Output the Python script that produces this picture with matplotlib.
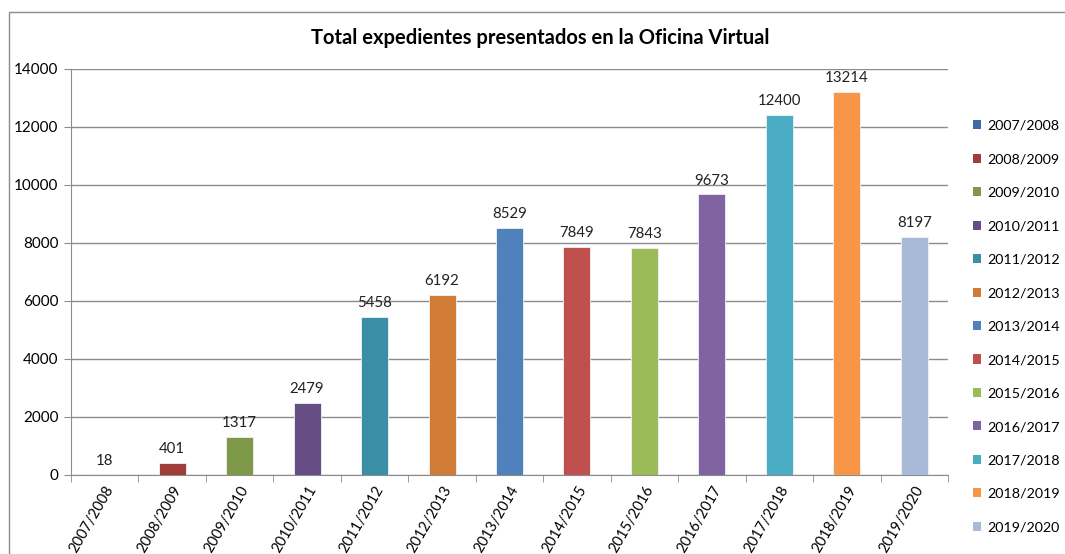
import matplotlib
matplotlib.use("Agg")
import matplotlib.pyplot as plt
from matplotlib.patches import Patch, Rectangle
import numpy as np

plt.rcParams.update({
    "font.family": ["Lato", "DejaVu Sans"],
    "font.size": 10,
})

cursos = ["2007/2008", "2008/2009", "2009/2010", "2010/2011", "2011/2012",
          "2012/2013", "2013/2014", "2014/2015", "2015/2016", "2016/2017",
          "2017/2018", "2018/2019", "2019/2020"]
expedientes = [18, 401, 1317, 2479, 5458, 6192, 8529, 7849, 7843, 9673,
               12400, 13214, 8197]
colores = ["#3C6AA6", "#9E3D3A", "#7E9A48", "#664E85", "#3A8EA5", "#D07B36",
           "#4F81BD", "#C0504D", "#9BBB59", "#8064A2", "#4BACC6", "#F79646",
           "#A9BAD8"]

fig = plt.figure(figsize=(10.65, 5.54), dpi=100)
# marco gris del gráfico
fig.patches.append(Rectangle((9 / 1065, -0.01), 1.2, 1 - 12 / 554 + 0.01,
                             transform=fig.transFigure, fill=False,
                             edgecolor="#8C8C8C", linewidth=1))
ax = fig.add_axes([71 / 1065, 1 - 475 / 554, (948 - 71) / 1065, (475 - 69) / 554])

x = np.arange(len(cursos))
ax.bar(x, expedientes, width=0.4, color=colores, edgecolor="#F2F2F2",
       linewidth=0.6, zorder=3)
for xi, v in zip(x, expedientes):
    ax.annotate(str(v), (xi, v), xytext=(0, 5), textcoords="offset points",
                ha="center", va="bottom", fontsize=10.8, color="#222222")

ax.set_xlim(-0.5, len(cursos) - 0.5)
ax.set_ylim(0, 14000)
ax.set_yticks(range(0, 14001, 2000))
ax.yaxis.grid(True, color="#8C8C8C", linewidth=1, zorder=0)
ax.set_axisbelow(True)

ax.set_xticks(x)
ax.set_xticklabels(cursos, rotation=60, ha="right", rotation_mode="anchor",
                   fontsize=10.5)
ax.tick_params(axis="x", length=0, pad=6)
ax.set_xticks(np.arange(-0.5, len(cursos)), minor=True)
ax.tick_params(axis="x", which="minor", length=5, color="#8C8C8C")
ax.tick_params(axis="y", length=5, color="#8C8C8C", pad=4, labelsize=11)

for s in ["top", "right"]:
    ax.spines[s].set_visible(False)
for s in ["left", "bottom"]:
    ax.spines[s].set_color("#8C8C8C")

fig.text(540 / 1065, 1 - 38 / 554, "Total expedientes presentados en la Oficina Virtual",
         ha="center", va="center", fontsize=14.5, fontweight="bold")

handles = [Patch(facecolor=c, edgecolor="none") for c in colores]
fig.legend(handles, cursos, loc="upper left",
           bbox_to_anchor=(960 / 1065, 1 - 107 / 554), frameon=False,
           handlelength=0.6, handleheight=0.6, handletextpad=0.4,
           labelspacing=1.5, fontsize=10.3)

fig.savefig("out.png", dpi=100, facecolor="white")
